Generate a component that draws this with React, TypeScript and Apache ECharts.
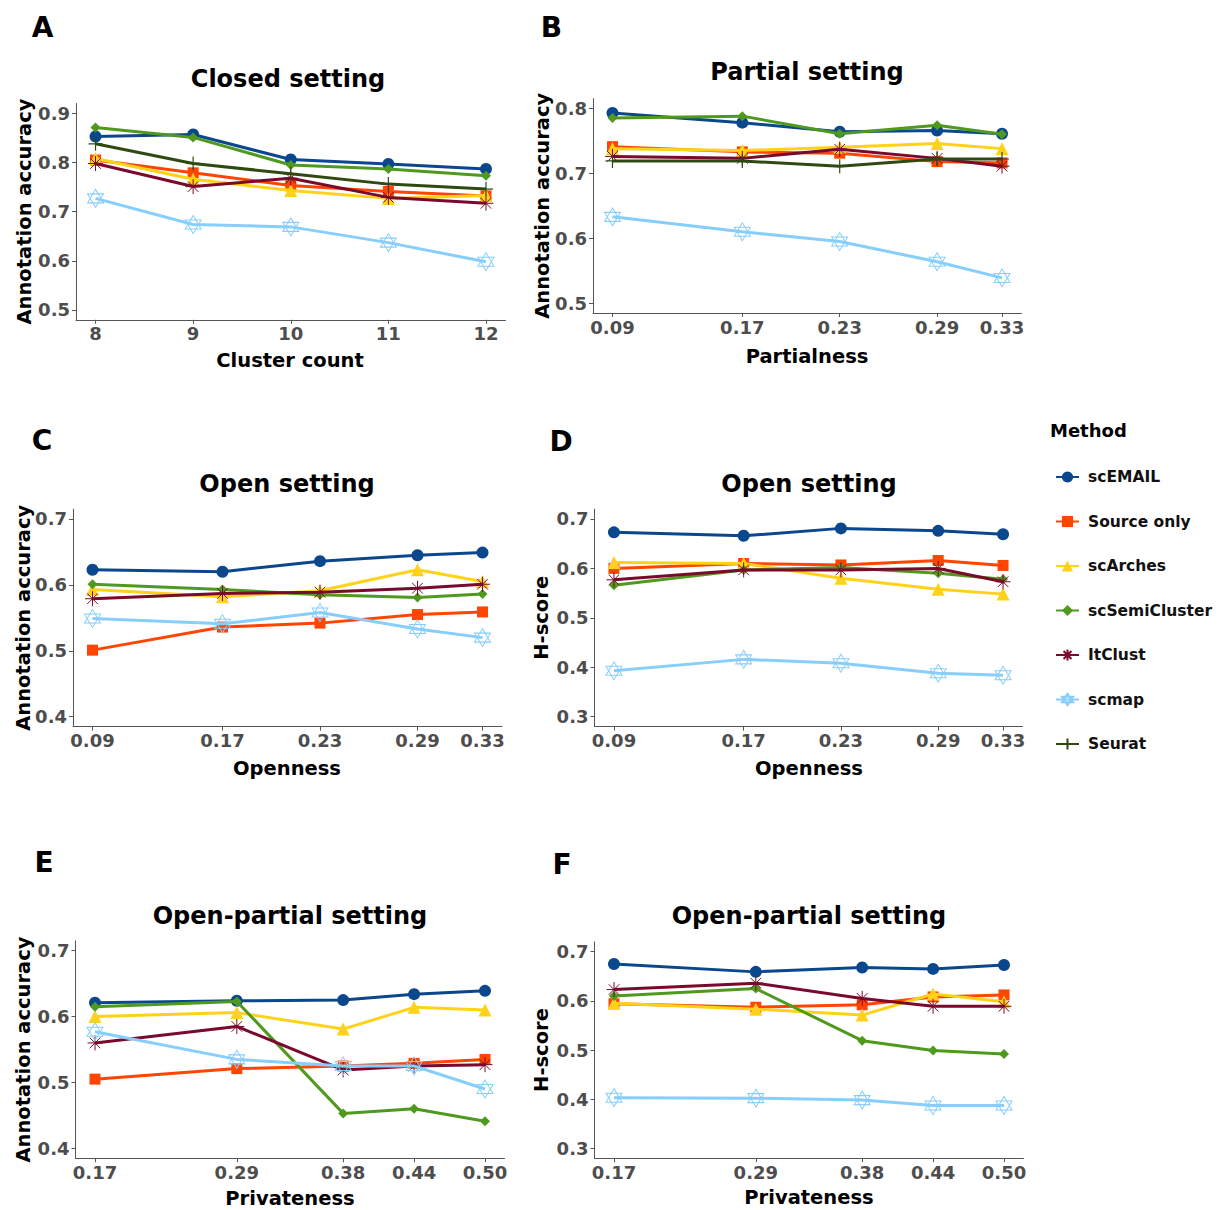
import { useEffect, useRef } from 'react';
import * as echarts from 'echarts';

// ---------------- data ----------------
const METHODS = ['scEMAIL', 'Source only', 'scArches', 'scSemiCluster', 'ItClust', 'scmap', 'Seurat'];

const clusterCount = [8, 9, 10, 11, 12];
const partialness = [0.09, 0.17, 0.23, 0.29, 0.33];
const openness = [0.09, 0.17, 0.23, 0.29, 0.33];
const privateness = [0.17, 0.29, 0.38, 0.44, 0.5];

const ticksA = [0.5, 0.6, 0.7, 0.8, 0.9];
const ticksB = [0.5, 0.6, 0.7, 0.8];
const ticksC = [0.4, 0.5, 0.6, 0.7];
const ticksD = [0.3, 0.4, 0.5, 0.6, 0.7];
const ticksE = [0.4, 0.5, 0.6, 0.7];
const ticksF = [0.3, 0.4, 0.5, 0.6, 0.7];

// A: Closed setting – annotation accuracy
const closedAccuracy: Record<string, number[]> = {
  scEMAIL: [0.853, 0.857, 0.806, 0.797, 0.787],
  'Source only': [0.805, 0.779, 0.753, 0.741, 0.732],
  scArches: [0.808, 0.766, 0.743, 0.727, 0.733],
  scSemiCluster: [0.871, 0.851, 0.795, 0.787, 0.773],
  ItClust: [0.798, 0.751, 0.768, 0.729, 0.717],
  scmap: [0.727, 0.674, 0.669, 0.637, 0.598],
  Seurat: [0.838, 0.798, 0.777, 0.756, 0.746],
};

// B: Partial setting – annotation accuracy
const partialAccuracy: Record<string, number[]> = {
  scEMAIL: [0.793, 0.778, 0.764, 0.766, 0.761],
  'Source only': [0.741, 0.733, 0.731, 0.718, 0.716],
  scArches: [0.738, 0.735, 0.740, 0.746, 0.738],
  scSemiCluster: [0.785, 0.788, 0.761, 0.774, 0.760],
  ItClust: [0.726, 0.723, 0.737, 0.723, 0.711],
  scmap: [0.633, 0.610, 0.595, 0.564, 0.539],
  Seurat: [0.719, 0.719, 0.711, 0.722, 0.722],
};

// C: Open setting – annotation accuracy
const openAccuracy: Record<string, number[]> = {
  scEMAIL: [0.623, 0.620, 0.636, 0.645, 0.649],
  'Source only': [0.501, 0.536, 0.542, 0.555, 0.559],
  scArches: [0.593, 0.582, 0.591, 0.623, 0.605],
  scSemiCluster: [0.601, 0.593, 0.585, 0.581, 0.586],
  ItClust: [0.579, 0.587, 0.589, 0.595, 0.601],
  scmap: [0.549, 0.541, 0.558, 0.533, 0.520],
};

// D: Open setting – H-score
const openHScore: Record<string, number[]> = {
  scEMAIL: [0.673, 0.666, 0.681, 0.676, 0.669],
  'Source only': [0.600, 0.610, 0.607, 0.616, 0.606],
  scArches: [0.612, 0.610, 0.580, 0.558, 0.548],
  scSemiCluster: [0.566, 0.597, 0.602, 0.590, 0.578],
  ItClust: [0.577, 0.597, 0.597, 0.600, 0.573],
  scmap: [0.393, 0.416, 0.408, 0.388, 0.384],
};

// E: Open-partial setting – annotation accuracy
const openPartialAccuracy: Record<string, number[]> = {
  scEMAIL: [0.621, 0.624, 0.625, 0.634, 0.639],
  'Source only': [0.505, 0.521, 0.525, 0.529, 0.535],
  scArches: [0.600, 0.606, 0.581, 0.614, 0.610],
  scSemiCluster: [0.615, 0.623, 0.453, 0.460, 0.441],
  ItClust: [0.560, 0.585, 0.519, 0.525, 0.527],
  scmap: [0.577, 0.535, 0.525, 0.525, 0.490],
};

// F: Open-partial setting – H-score
const openPartialHScore: Record<string, number[]> = {
  scEMAIL: [0.675, 0.659, 0.668, 0.665, 0.673],
  'Source only': [0.594, 0.587, 0.592, 0.608, 0.612],
  scArches: [0.595, 0.583, 0.571, 0.614, 0.598],
  scSemiCluster: [0.610, 0.625, 0.519, 0.499, 0.492],
  ItClust: [0.623, 0.636, 0.605, 0.589, 0.589],
  scmap: [0.403, 0.402, 0.398, 0.387, 0.387],
};

// ---------------- styles ----------------
const FONT = '"DejaVu Sans", "Liberation Sans", sans-serif';
const AXIS_GREY = '#555555';
const LABEL_GREY = '#4D4D4D';

const STAR_OF_DAVID = 'path://M0,-10L8.66,5L-8.66,5ZM0,10L8.66,-5L-8.66,-5Z';
const ASTERISK = 'path://M0,-10L0,10M-10,0L10,0M-7.07,-7.07L7.07,7.07M-7.07,7.07L7.07,-7.07';
const PLUS = 'path://M0,-10L0,10M-10,0L10,0';

const METHOD_STYLE: Record<string, any> = {
  scEMAIL: { color: '#0B478C', symbol: 'circle', size: 12 },
  'Source only': { color: '#FF4500', symbol: 'rect', size: 11 },
  scArches: { color: '#FFD21A', symbol: 'triangle', size: 13 },
  scSemiCluster: { color: '#4F9A1E', symbol: 'diamond', size: 10 },
  ItClust: { color: '#7A0A2C', symbol: ASTERISK, size: 15, stroke: 1 },
  scmap: { color: '#87CEFA', symbol: STAR_OF_DAVID, size: [16, 18], stroke: 1, hollow: true },
  Seurat: { color: '#2F4A10', symbol: PLUS, size: 14, stroke: 1.2 },
};

type Panel = {
  letter: string;
  title: string;
  xName: string;
  yName: string;
  xs: number[];
  values: Record<string, number[]>;
  yTicks: number[];
  grid: { left: number; top: number; width: number; height: number };
  xRange: [number, number];
  yRange: [number, number];
  xFmt: (v: number) => string;
  letterPos: [number, number];
  titlePos: [number, number];
  xNamePos: [number, number];
  yNamePos: [number, number];
};

const fmt2 = (v: number) => v.toFixed(2);

const PANELS: Panel[] = [
  {
    letter: 'A', title: 'Closed setting', xName: 'Cluster count', yName: 'Annotation accuracy',
    xs: clusterCount, values: closedAccuracy, yTicks: ticksA,
    grid: { left: 76, top: 103.5, width: 429.5, height: 216.3 },
    xRange: [7.8, 12.2], yRange: [0.48, 0.92], xFmt: (v) => String(v),
    letterPos: [42.5, 27], titlePos: [288, 78.5], xNamePos: [290, 360], yNamePos: [24, 211.5],
  },
  {
    letter: 'B', title: 'Partial setting', xName: 'Partialness', yName: 'Annotation accuracy',
    xs: partialness, values: partialAccuracy, yTicks: ticksB,
    grid: { left: 593, top: 98.6, width: 428.5, height: 214.4 },
    xRange: [0.078, 0.342], yRange: [0.485, 0.815], xFmt: fmt2,
    letterPos: [551.5, 27], titlePos: [807, 71.5], xNamePos: [807, 356], yNamePos: [542, 205.8],
  },
  {
    letter: 'C', title: 'Open setting', xName: 'Openness', yName: 'Annotation accuracy',
    xs: openness, values: openAccuracy, yTicks: ticksC,
    grid: { left: 73, top: 509.1, width: 429, height: 217.5 },
    xRange: [0.078, 0.342], yRange: [0.385, 0.715], xFmt: fmt2,
    letterPos: [42, 440], titlePos: [287, 484], xNamePos: [287, 768], yNamePos: [23, 617.8],
  },
  {
    letter: 'D', title: 'Open setting', xName: 'Openness', yName: 'H-score',
    xs: openness, values: openHScore, yTicks: ticksD,
    grid: { left: 594.5, top: 509.1, width: 428, height: 217.5 },
    xRange: [0.078, 0.342], yRange: [0.28, 0.72], xFmt: fmt2,
    letterPos: [561, 441], titlePos: [809, 484], xNamePos: [809, 768], yNamePos: [541, 617.8],
  },
  {
    letter: 'E', title: 'Open-partial setting', xName: 'Privateness', yName: 'Annotation accuracy',
    xs: privateness, values: openPartialAccuracy, yTicks: ticksE,
    grid: { left: 75.5, top: 940.8, width: 429, height: 217.4 },
    xRange: [0.1535, 0.5165], yRange: [0.385, 0.715], xFmt: fmt2,
    letterPos: [44, 862], titlePos: [290, 916], xNamePos: [290, 1198], yNamePos: [23, 1049.5],
  },
  {
    letter: 'F', title: 'Open-partial setting', xName: 'Privateness', yName: 'H-score',
    xs: privateness, values: openPartialHScore, yTicks: ticksF,
    grid: { left: 594.5, top: 941.9, width: 429, height: 216.2 },
    xRange: [0.1535, 0.5165], yRange: [0.28, 0.72], xFmt: fmt2,
    letterPos: [562, 864], titlePos: [809, 916], xNamePos: [809, 1197.5], yNamePos: [541, 1050],
  },
];

function textEl(text: string, x: number, y: number, size: number, rotation = 0, align = 'center') {
  return {
    type: 'text',
    x,
    y,
    rotation,
    silent: true,
    style: {
      text,
      fill: '#000000',
      fontSize: size,
      fontWeight: 'bold',
      fontFamily: FONT,
      align,
      verticalAlign: 'middle',
    },
  };
}

function buildOption() {
  const grids: any[] = [];
  const xAxes: any[] = [];
  const yAxes: any[] = [];
  const series: any[] = [];
  const graphics: any[] = [];

  PANELS.forEach((p, i) => {
    grids.push({ ...p.grid, containLabel: false, outerBoundsMode: 'none' });
    xAxes.push({
      type: 'value',
      gridIndex: i,
      min: p.xRange[0],
      max: p.xRange[1],
      splitLine: { show: false },
      axisLine: { show: true, onZero: false, lineStyle: { color: AXIS_GREY, width: 1 } },
      axisTick: { show: true, length: 4, customValues: p.xs, lineStyle: { color: AXIS_GREY } },
      axisLabel: {
        customValues: p.xs,
        formatter: (v: number) => p.xFmt(v),
        margin: 5,
        color: LABEL_GREY,
        fontSize: 18,
        fontWeight: 'bold',
        fontFamily: FONT,
      },
    });
    yAxes.push({
      type: 'value',
      gridIndex: i,
      min: p.yRange[0],
      max: p.yRange[1],
      splitLine: { show: false },
      axisLine: { show: true, onZero: false, lineStyle: { color: AXIS_GREY, width: 1 } },
      axisTick: { show: true, length: 4, customValues: p.yTicks, lineStyle: { color: AXIS_GREY } },
      axisLabel: {
        customValues: p.yTicks,
        formatter: (v: number) => v.toFixed(1),
        margin: 6,
        color: LABEL_GREY,
        fontSize: 18,
        fontWeight: 'bold',
        fontFamily: FONT,
      },
    });

    Object.keys(p.values).forEach((m) => {
      const st = METHOD_STYLE[m];
      const vals = p.values[m];
      series.push({
        type: 'line',
        name: m,
        xAxisIndex: i,
        yAxisIndex: i,
        data: p.xs.map((x, k) => [x, vals[k]]),
        symbol: st.symbol,
        symbolSize: st.size,
        showSymbol: true,
        silent: true,
        lineStyle: { color: st.color, width: 3 },
        itemStyle: {
          color: st.hollow ? 'rgba(0,0,0,0)' : st.color,
          borderColor: st.color,
          borderWidth: st.stroke || 0,
        },
        z: 2 + METHODS.indexOf(m) * 0.01,
      });
    });

    graphics.push(textEl(p.letter, p.letterPos[0], p.letterPos[1], 28));
    graphics.push(textEl(p.title, p.titlePos[0], p.titlePos[1], 24));
    graphics.push(textEl(p.xName, p.xNamePos[0], p.xNamePos[1], 19.5));
    graphics.push(textEl(p.yName, p.yNamePos[0], p.yNamePos[1], 19.5, Math.PI / 2));
  });

  graphics.push(textEl('Method', 1050, 430, 18, 0, 'left'));

  return {
    animation: false,
    backgroundColor: '#ffffff',
    textStyle: { fontFamily: FONT },
    grid: grids,
    xAxis: xAxes,
    yAxis: yAxes,
    series,
    legend: {
      data: METHODS,
      orient: 'vertical',
      left: 1050,
      top: 464,
      itemWidth: 23,
      itemHeight: 14,
      itemGap: 28.5,
      selectedMode: false,
      textStyle: {
        color: '#111111',
        fontSize: 15.5,
        fontWeight: 'bold',
        fontFamily: FONT,
        padding: [0, 0, 0, 4],
      },
    },
    graphic: graphics,
  };
}

export default function App() {
  const ref = useRef<HTMLDivElement>(null);
  useEffect(() => {
    if (!ref.current) return;
    const chart = echarts.init(ref.current, undefined, { renderer: 'svg' });
    chart.setOption(buildOption() as any);
    return () => chart.dispose();
  }, []);
  return (
    <div
      ref={ref}
      style={{ position: 'absolute', left: 0, top: 0, width: 1224, height: 1210, background: '#fff' }}
    />
  );
}
